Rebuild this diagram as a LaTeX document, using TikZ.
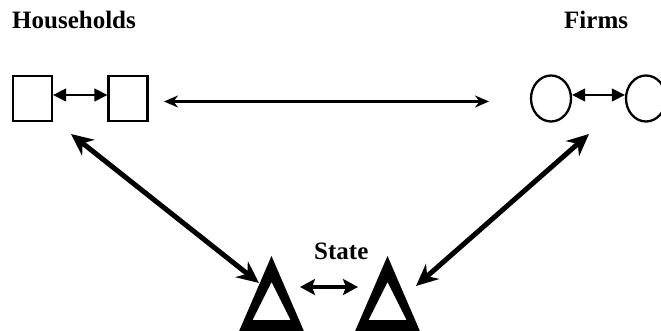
\documentclass[tikz,border=0pt]{standalone}
\usepackage{fontspec}
\setmainfont{Liberation Serif}
\usetikzlibrary{arrows.meta,shapes.geometric}

\tikzset{
  label text/.style={font=\fontsize{25pt}{29pt}\selectfont\bfseries, inner sep=0pt, anchor=base west},
  agent box/.style={draw, line width=2.3pt, minimum width=39pt, minimum height=45pt, inner sep=0pt},
  agent disc/.style={draw, ellipse, line width=2.3pt, minimum width=40pt, minimum height=46pt, inner sep=0pt},
  thin link/.style={line width=1.5pt, {Triangle[length=13pt,width=13pt]}-{Triangle[length=13pt,width=13pt]}},
  long link/.style={line width=2.2pt, {Stealth[length=14pt,width=12pt]}-{Stealth[length=14pt,width=12pt]}},
  heavy link/.style={line width=5pt, {Stealth[length=22pt,width=20pt]}-{Stealth[length=22pt,width=20pt]}},
  state link/.style={line width=4pt, {Stealth[length=15pt,width=16pt,inset=3pt]}-{Stealth[length=15pt,width=16pt,inset=3pt]}},
}

\begin{document}
\begin{tikzpicture}[x=1pt, y=-1pt]
  \useasboundingbox (0,0) rectangle (661,331);
  \clip (0,0) rectangle (661,331);

  % titles
  \node[label text] (hh) at (12,29) {Households};
  \node[label text] (fm) at (564,29) {Firms};
  \node[label text] (st) at (314,259) {State};

  % households and firms
  \node[agent box] (s1) at (32.5,98.5) {};
  \node[agent box] (s2) at (128,98.5) {};
  \node[agent disc] (c1) at (551,98.5) {};
  \node[agent disc] (c2) at (646,98.5) {};

  % the two state triangles (thick black outline)
  \fill[even odd rule]
    (271.5,256) -- (237,336) -- (306,336) -- cycle
    (271.5,282) -- (252.5,320) -- (290.5,320) -- cycle;
  \fill[even odd rule]
    (387.5,256) -- (353,336) -- (422,336) -- cycle
    (387.5,282) -- (368.5,320) -- (406.5,320) -- cycle;

  % arrow end points
  \coordinate (hhE) at (164,101.5);
  \coordinate (fmW) at (489,101.5);
  \coordinate (hhS) at (71,134);
  \coordinate (t1N) at (259,283);
  \coordinate (fmS) at (589,134);
  \coordinate (t2N) at (416,286);
  \coordinate (t1E) at (300,287);
  \coordinate (t2W) at (358,287);

  % connectors
  \draw[thin link] ([yshift=3.5pt]s1.east) -- ([yshift=3.5pt]s2.west);
  \draw[thin link] ([yshift=3.5pt]c1.east) -- ([yshift=3.5pt]c2.west);
  \draw[long link] (hhE) -- (fmW);
  \draw[heavy link] (hhS) -- (t1N);
  \draw[heavy link] (fmS) -- (t2N);
  \draw[state link] (t1E) -- (t2W);
\end{tikzpicture}
\end{document}
